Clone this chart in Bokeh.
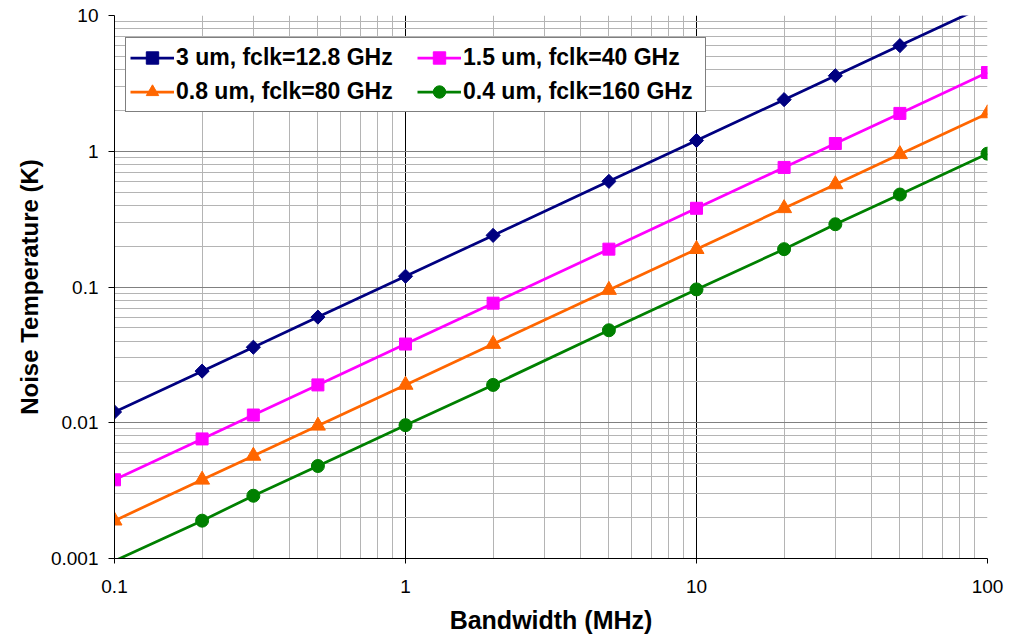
import math
from bokeh.plotting import figure
from bokeh.models import FixedTicker, CustomJSTickFormatter, Legend
from bokeh.embed import file_html
from bokeh.resources import INLINE

# ---- data ----
bandwidth = [0.1, 0.2, 0.3, 0.5, 1, 2, 5, 10, 20, 30, 50, 100]
t_3um = [0.012, 0.024, 0.036, 0.06, 0.12, 0.24, 0.6, 1.2, 2.4, 3.6, 6.0, 12.0]
t_15um = [0.0038, 0.0076, 0.0114, 0.019, 0.038, 0.076, 0.19, 0.38, 0.76, 1.14, 1.9, 3.8]
t_08um = [0.0019, 0.0038, 0.0057, 0.0095, 0.019, 0.038, 0.095, 0.19, 0.38, 0.57, 0.95, 1.9]
t_04um = [0.00096, 0.0019, 0.0029, 0.0048, 0.0096, 0.019, 0.048, 0.096, 0.19, 0.29, 0.48, 0.96]

labels = ["3 um, fclk=12.8 GHz", "1.5 um, fclk=40 GHz",
          "0.8 um, fclk=80 GHz", "0.4 um, fclk=160 GHz"]
x_ticks = [0.1, 1, 10, 100]
y_ticks = [0.001, 0.01, 0.1, 1, 10]

X_RANGE = (0.1, 100)
Y_RANGE = (0.001, 10)

p = figure(width=1021, height=636, x_axis_type="log", y_axis_type="log",
           x_range=X_RANGE, y_range=Y_RANGE,
           output_backend="svg", toolbar_location=None,
           min_border_left=114, min_border_right=34,
           min_border_top=15, min_border_bottom=77)
p.background_fill_color = "white"
p.border_fill_color = "white"
p.outline_line_color = None

x_minor = [m * d for d in [0.1, 1, 10] for m in range(2, 10)]
y_minor = [m * d for d in [0.001, 0.01, 0.1, 1] for m in range(2, 10)]
p.xaxis.ticker = FixedTicker(ticks=x_ticks, minor_ticks=x_minor)
p.yaxis.ticker = FixedTicker(ticks=y_ticks, minor_ticks=y_minor)
p.xaxis.formatter = CustomJSTickFormatter(code="return tick.toString();")
p.yaxis.formatter = CustomJSTickFormatter(code="return tick.toString();")

p.xgrid.grid_line_color = "black"
p.ygrid.grid_line_color = "#808080"
p.xgrid.minor_grid_line_color = "#b4b4b4"
p.ygrid.minor_grid_line_color = "#b4b4b4"

for ax in (p.xaxis, p.yaxis):
    ax.axis_line_color = "black"
    ax.major_tick_line_color = "black"
    ax.minor_tick_line_color = None
    ax.major_tick_in = 0
    ax.major_label_text_font = "Liberation Sans"
    ax.major_label_text_font_size = "19px"
    ax.major_label_text_color = "black"
    ax.axis_label_text_font = "Liberation Sans"
    ax.axis_label_text_font_style = "bold"
    ax.axis_label_text_color = "black"

p.xaxis.major_tick_out = 5
p.xaxis.major_label_standoff = 16
p.xaxis.axis_label = "Bandwidth (MHz)"
p.xaxis.axis_label_text_font_size = "25px"
p.xaxis.axis_label_standoff = 10
p.yaxis.major_tick_out = 6
p.yaxis.major_label_standoff = 10
p.yaxis.axis_label = "Noise Temperature (K)"
p.yaxis.axis_label_text_font_size = "24px"
p.yaxis.axis_label_standoff = 5

series = [
    (t_3um, labels[0], "#000080", "square", 10, math.pi / 4),
    (t_15um, labels[1], "#FF00FF", "square", 12, 0),
    (t_08um, labels[2], "#FF6600", "triangle", 15, 0),
    (t_04um, labels[3], "#008000", "circle", 13, 0),
]

items = {}
for ys, lab, col, mk, sz, ang in series:
    r1 = p.line(bandwidth, ys, line_color=col, line_width=2.75)
    pts = [(x, y) for x, y in zip(bandwidth, ys)
           if Y_RANGE[0] <= y <= Y_RANGE[1]]
    r2 = p.scatter([a for a, _ in pts], [b for _, b in pts], marker=mk,
                   size=sz, angle=ang, fill_color=col, line_color=col)
    items[lab] = [r1, r2]

# column-major order so rows read: 3um | 1.5um ; 0.8um | 0.4um
order = [labels[0], labels[2], labels[1], labels[3]]
legend = Legend(items=[(l, items[l]) for l in order], ncols=2,
                location=(11, 446),
                label_text_font="Liberation Sans", label_text_font_style="bold",
                label_text_font_size="23px", label_text_color="black",
                glyph_width=44, glyph_height=31, label_standoff=2,
                label_width=238, label_height=27,
                padding=4, spacing=3, margin=0,
                border_line_color="black", border_line_width=1,
                background_fill_color="white", background_fill_alpha=1.0)
p.add_layout(legend, "center")

open("out.html", "w").write(file_html(p, INLINE))
